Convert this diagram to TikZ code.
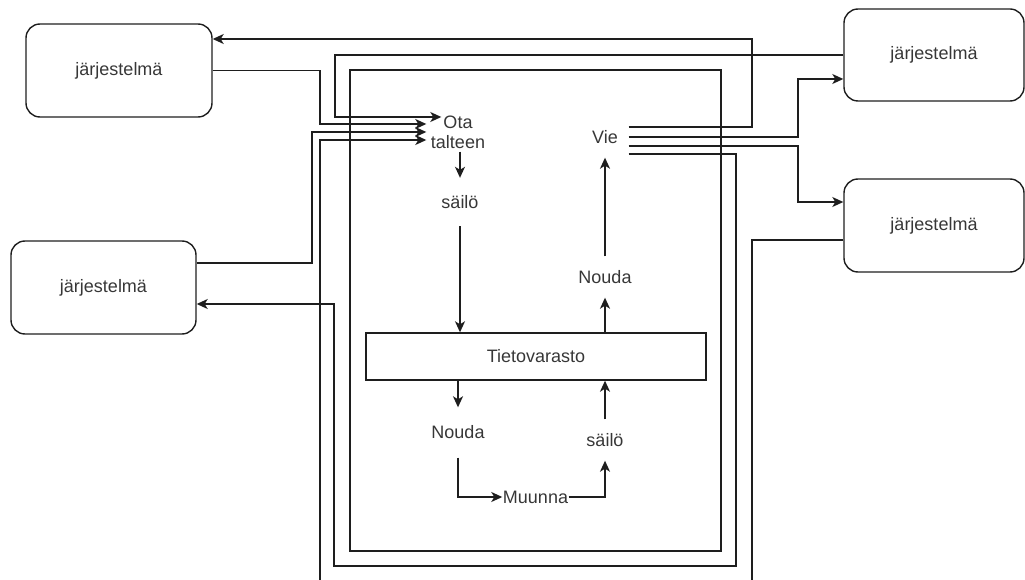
\documentclass[tikz,border=0pt]{standalone}
\usepackage{fontspec}
\setmainfont{Liberation Sans}
\usetikzlibrary{arrows.meta}
\definecolor{ink}{RGB}{30,30,30}
\definecolor{txt}{RGB}{55,55,55}
\begin{document}
\begin{tikzpicture}[x=1pt,y=-1pt,line width=1.4pt,draw=ink,
  every node/.style={font=\fontsize{18}{20}\selectfont,text=txt,inner sep=0pt},
  sysbox/.style={draw=ink,rounded corners=14pt,minimum height=93pt},
  plainbox/.style={draw=ink},
  arr/.style={-{Stealth[length=11pt,width=10pt,inset=3pt]}}]
\clip (0,0) rectangle (1025,580);
% system boxes
\node[sysbox,minimum width=186pt] (b1) at (119,70.5) {järjestelmä};
\node[sysbox,minimum width=185pt] (b2) at (103.5,287.5) {järjestelmä};
\node[sysbox,minimum width=180pt,minimum height=92pt] (b3) at (934,55) {järjestelmä};
\node[sysbox,minimum width=180pt] (b4) at (934,225.5) {järjestelmä};
% inner frame and store
\node[plainbox,minimum width=371pt,minimum height=481pt] (frame) at (535.5,310.5) {};
\node[plainbox,minimum width=340pt,minimum height=47pt] (tv) at (536,356.5) {Tietovarasto};
% labels
\node[align=center,minimum width=62pt,minimum height=38pt] (ota) at (458,132) {Ota\\talteen};
\node[minimum width=46pt,minimum height=40pt] (vie) at (605,137) {Vie};
\node[minimum height=47pt] (s1) at (460,202) {säilö};
\node[minimum height=40pt] (n1) at (605,277) {Nouda};
\node[minimum height=49pt] (n2) at (458,432.5) {Nouda};
\node[minimum height=40pt] (s2) at (605,440) {säilö};
\node[minimum width=65pt] (mu) at (535.5,497) {Muunna};
% inner flow
\draw[arr] (ota.south -| s1.north) -- (s1.north);
\draw[arr] (s1.south) -- (s1.south |- tv.north);
\draw[arr] (tv.north -| n1.south) -- (n1.south);
\draw[arr] (n1.north) -- (vie.south);
\draw[arr] (tv.south -| n2.north) -- (n2.north);
\draw[arr] (n2.south) |- (mu.west);
\draw[arr] (mu.east) -| (s2.south);
\draw[arr] (s2.north) -- (s2.north |- tv.south);
% outer connectors
\coordinate (c1) at (752,39);
\draw[arr] ([yshift=10pt]vie.east) -| (c1) -- (c1 -| b1.east);
\coordinate (c2) at (335,117);
\draw[arr] (b3.west) -| (c2) -- ([xshift=15pt,yshift=15pt]ota.west);
\coordinate (c3) at (320,124);
\draw[arr] (b1.east) -| (c3) -- ([yshift=8pt]ota.west);
\coordinate (c4) at (312,132);
\draw[arr] ([yshift=24.5pt]b2.east) -| (c4) -- (ota.west);
\coordinate (c5a) at (752,600);
\coordinate (c5b) at (320,140);
\draw[arr] ([yshift=-14.5pt]b4.west) -| (c5a) -| (c5b) -- ([yshift=-8pt]ota.west);
\coordinate (c6) at (798,79);
\draw[arr] (vie.east) -| (c6) -- ([yshift=-24pt]b3.west);
\coordinate (c7) at (798,202);
\draw[arr] ([yshift=-9pt]vie.east) -| (c7) -- ([yshift=23.5pt]b4.west);
\coordinate (c8a) at (736,566);
\coordinate (c8b) at (334,304);
\draw[arr] ([yshift=-17pt]vie.east) -| (c8a) -| (c8b) -- ([yshift=-16.5pt]b2.east);
\end{tikzpicture}
\end{document}
